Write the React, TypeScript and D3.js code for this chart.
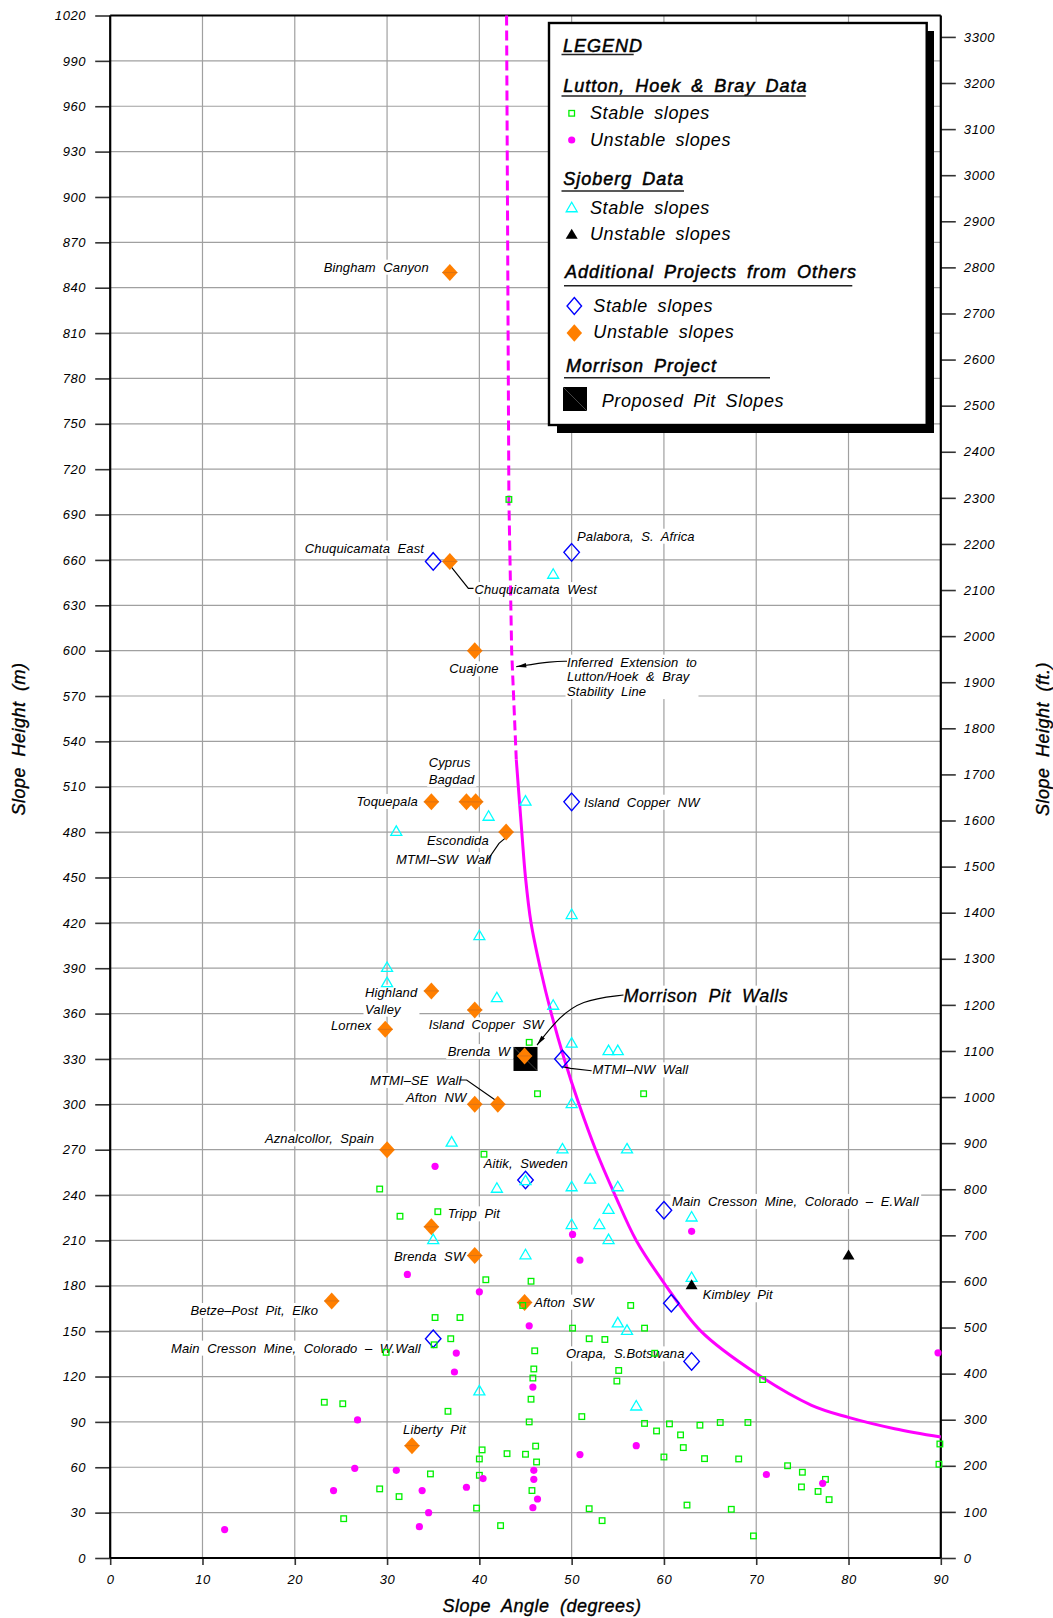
import React, { useEffect, useRef } from "react";
import * as d3 from "d3";

type Pt = [number, number];

const W = 1053;
const H = 1618;

// ---- axes / ticks ----
const angleTicks = [0, 10, 20, 30, 40, 50, 60, 70, 80, 90];
const heightTicksM = [0, 30, 60, 90, 120, 150, 180, 210, 240, 270, 300, 330, 360, 390, 420, 450, 480, 510, 540, 570, 600, 630, 660, 690, 720, 750, 780, 810, 840, 870, 900, 930, 960, 990, 1020];
const heightTicksFt = [0, 100, 200, 300, 400, 500, 600, 700, 800, 900, 1000, 1100, 1200, 1300, 1400, 1500, 1600, 1700, 1800, 1900, 2000, 2100, 2200, 2300, 2400, 2500, 2600, 2700, 2800, 2900, 3000, 3100, 3200, 3300];

// ---- data: [slope angle (deg), slope height (m)] ----
const lhbStable: Pt[] = [
  [43.2, 700], [45.4, 341], [46.3, 307], [57.8, 307], [40.5, 267], [29.2, 244], [31.4, 226], [35.5, 229],
  [40.7, 184], [45.6, 183], [35.2, 159], [37.9, 159], [36.9, 145], [35.1, 141], [29.9, 136], [46, 137],
  [45.9, 125], [45.8, 119], [45.6, 105], [23.2, 103], [25.2, 102], [36.6, 97], [45.4, 90], [46.1, 74],
  [40.3, 71.5], [43, 69], [45, 68.6], [40, 65.5], [46.2, 63.5], [34.7, 55.6], [40, 54.7], [29.2, 45.7],
  [45.7, 44.6], [31.3, 40.6], [39.7, 33], [25.3, 26], [42.3, 21.4], [44.7, 167], [56.4, 167], [50.1, 152],
  [57.9, 152], [51.9, 145], [53.6, 144.5], [59, 135.4], [55.1, 124], [54.9, 117], [70.7, 118], [51.1, 93.5],
  [57.9, 89], [59.2, 84], [60.6, 88.7], [61.8, 81.4], [63.9, 87.8], [66.1, 89.6], [69.1, 89.6], [62.1, 73],
  [60, 66.8], [64.4, 65.7], [68.1, 65.5], [73.4, 61], [75, 56.7], [74.9, 47], [76.7, 44], [77.5, 52],
  [77.9, 38.6], [51.9, 32.6], [62.5, 35], [67.3, 32.2], [53.3, 24.7], [69.7, 14.6], [89.9, 75.4], [89.8, 62],
];
const lhbUnstable: Pt[] = [
  [35.2, 259], [50.1, 214], [63, 216], [50.9, 197], [32.2, 187.5], [40, 176], [45.4, 153.5], [37.5, 135.5],
  [37.3, 123], [45.8, 113], [26.8, 91.3], [26.5, 59.3], [31, 58], [45.9, 58], [40.4, 52.5], [45.9, 52],
  [38.6, 46.8], [24.2, 44.6], [33.8, 44.6], [46.3, 39], [45.8, 33.3], [34.5, 30], [33.5, 20.7], [12.4, 18.8],
  [50.9, 68.4], [57, 74.3], [71.1, 55.2], [77.2, 49.4], [89.7, 135.7],
];
const sjobergStable: Pt[] = [
  [48, 651], [45, 501], [41, 491], [31, 481], [40, 412], [30, 391], [30, 381], [41.9, 371], [48, 366],
  [50, 426], [50, 341], [54, 336], [55, 336], [37, 275.5], [49, 271], [56, 271], [45, 250], [52, 251],
  [41.9, 245], [50, 246], [55, 246], [54, 231], [53, 221], [50, 221], [63, 226], [35, 211], [54, 211],
  [45, 201], [63, 186], [55, 156], [56, 151], [57, 101], [40, 111], [50, 301],
];
const sjobergUnstable: Pt[] = [[63, 181], [80, 200.7]];
const othersStable: Pt[] = [
  [35, 659], [50, 665], [50, 500], [49, 330], [45, 250], [60, 230], [35, 145], [60.8, 168.5], [63, 130],
];
const othersUnstable: Pt[] = [
  [36.8, 850], [36.8, 659], [39.5, 600], [34.8, 500], [38.6, 500], [39.6, 500], [42.9, 480], [34.8, 375],
  [39.5, 362.4], [29.8, 349.6], [44.9, 332], [42, 300], [39.5, 300], [30, 270], [34.8, 219], [39.5, 200],
  [24, 170], [44.9, 169], [32.7, 74.3],
];
const morrisonPit: Pt[] = [[45, 330]];

// Lutton / Hoek & Bray stability line
const stabilityInferred: Pt[] = [[42.95, 1020], [43.2, 700], [43.5, 600], [44.0, 528]];
const stabilityLine: Pt[] = [
  [44.0, 528], [44.6, 480], [45.0, 450], [45.6, 420], [46.6, 390], [47.8, 360], [49.2, 330], [50.8, 300],
  [52.6, 270], [54.7, 240], [57.0, 210], [60.0, 182], [64, 150], [70, 122], [76, 101], [80, 93], [85, 85.5], [90, 80],
];

// site labels: text lines, anchor (angle, height) of first baseline start
const siteLabels: { lines: string[]; at: Pt; big?: boolean }[] = [
  { lines: ["Bingham  Canyon"], at: [23.13, 850.6] },
  { lines: ["Chuquicamata  East"], at: [21.09, 664.8] },
  { lines: ["Chuquicamata  West"], at: [39.47, 637.4] },
  { lines: ["Cuajone"], at: [36.75, 585] },
  { lines: ["Palabora,  S.  Africa"], at: [50.58, 672.7] },
  { lines: ["Inferred  Extension  to", "Lutton/Hoek  &  Bray", "Stability  Line"], at: [49.5, 589.4] },
  { lines: ["Island  Copper  NW"], at: [51.34, 496.8] },
  { lines: ["Cyprus", "Bagdad"], at: [34.51, 523.2] },
  { lines: ["Toquepala"], at: [26.68, 497.3] },
  { lines: ["Escondida"], at: [34.33, 471.5] },
  { lines: ["MTMI–SW  Wall"], at: [30.97, 458.9] },
  { lines: ["Highland", "Valley"], at: [27.61, 371.2] },
  { lines: ["Lornex"], at: [23.92, 349.1] },
  { lines: ["Island  Copper  SW"], at: [34.51, 349.6] },
  { lines: ["Brenda  W"], at: [36.57, 331.9] },
  { lines: ["MTMI–SE  Wall"], at: [28.15, 312.8] },
  { lines: ["Afton  NW"], at: [32.05, 301.7] },
  { lines: ["Aznalcollor,  Spain"], at: [16.77, 274.2] },
  { lines: ["Aitik,  Sweden"], at: [40.48, 257.7] },
  { lines: ["Tripp  Pit"], at: [36.57, 224.6] },
  { lines: ["Brenda  SW"], at: [30.75, 196.6] },
  { lines: ["Betze–Post  Pit,  Elko"], at: [8.69, 160.7] },
  { lines: ["Main  Cresson  Mine,  Colorado  –  W.Wall"], at: [6.59, 135.8] },
  { lines: ["Liberty  Pit"], at: [31.73, 82] },
  { lines: ["Afton  SW"], at: [45.94, 166.2] },
  { lines: ["Kimbley  Pit"], at: [64.21, 171.1] },
  { lines: ["Orapa,  S.Botswana"], at: [49.39, 132] },
  { lines: ["Main  Cresson  Mine,  Colorado  –  E.Wall"], at: [60.87, 232.8] },
  { lines: ["MTMI–NW  Wall"], at: [52.25, 319.8] },
  { lines: ["Morrison  Pit  Walls"], at: [55.62, 367.9], big: true },
];

const leaders: { pts: Pt[]; arrow: boolean; smooth: boolean }[] = [
  { pts: [[36.93, 655.5], [38.81, 641.2], [39.37, 641.2]], arrow: false, smooth: false },
  { pts: [[49.5, 593], [48.0, 593], [44.0, 589.4]], arrow: true, smooth: true },
  { pts: [[40.67, 459.6], [42.13, 472.6], [42.9, 476.5]], arrow: false, smooth: false },
  { pts: [[37.87, 316.1], [38.62, 316.1], [41.72, 302.9]], arrow: false, smooth: false },
  { pts: [[49, 324.9], [49.88, 323.8], [52.17, 322.2]], arrow: false, smooth: false },
  { pts: [[55.62, 372.3], [50.99, 369], [48.35, 355.8], [46.25, 339.2]], arrow: true, smooth: true },
];

const FONT = "'Liberation Sans', Arial, Helvetica, sans-serif";

const diamondPath = (w: number, h: number) => `M0,${-h / 2}L${w / 2},0L0,${h / 2}L${-w / 2},0Z`;
const triPath = (w: number, h: number) => `M0,${-h / 2}L${w / 2},${h / 2}L${-w / 2},${h / 2}Z`;

export default function App() {
  const ref = useRef<SVGSVGElement>(null);

  useEffect(() => {
    const svg = d3.select(ref.current as SVGSVGElement);
    svg.selectAll("*").remove();

    const x = d3.scaleLinear().domain([0, 90]).range([110.2, 940.8]);
    const y = d3.scaleLinear().domain([0, 1020]).range([1558, 15.5]);
    const yFt = d3.scaleLinear().domain([0, 1020 / 0.3048]).range([1558, 15.5]);

    svg.append("rect").attr("width", W).attr("height", H).attr("fill", "#fff");

    const defs = svg.append("defs");
    defs.append("marker").attr("id", "arrowHead").attr("viewBox", "0 0 12 6")
      .attr("refX", 12).attr("refY", 3).attr("markerWidth", 12).attr("markerHeight", 5)
      .attr("markerUnits", "userSpaceOnUse").attr("orient", "auto")
      .append("path").attr("d", "M0,0.3L12,3L0,5.7Z").attr("fill", "#000");

    // grid
    const grid = svg.append("g").attr("stroke", "#a0a0a0").attr("stroke-width", 1.2);
    grid.selectAll("line.gv").data(angleTicks.filter((d) => d > 0 && d < 90)).join("line")
      .attr("class", "gv").attr("x1", (d) => x(d)).attr("x2", (d) => x(d)).attr("y1", y(0)).attr("y2", y(1020));
    grid.selectAll("line.gh").data(heightTicksM.filter((d) => d > 0 && d < 1020)).join("line")
      .attr("class", "gh").attr("x1", x(0)).attr("x2", x(90)).attr("y1", (d) => y(d)).attr("y2", (d) => y(d));

    const masks = svg.append("g").attr("fill", "#fff");

    // axes
    const styleAxis = (g: any) => {
      g.select(".domain").remove();
      g.selectAll("line").attr("stroke", "#333").attr("stroke-width", 1.6);
      g.selectAll("text").attr("font-family", FONT).attr("font-style", "italic")
        .attr("font-size", 13).attr("letter-spacing", 0.6).attr("fill", "#000");
    };
    svg.append("g").attr("transform", `translate(${x(0)},0)`)
      .call(d3.axisLeft(y).tickValues(heightTicksM).tickSize(15).tickPadding(9).tickFormat(d3.format("d")))
      .call(styleAxis);
    svg.append("g").attr("transform", `translate(${x(90)},0)`)
      .call(d3.axisRight(yFt).tickValues(heightTicksFt).tickSize(15).tickPadding(8).tickFormat(d3.format("d")))
      .call(styleAxis);
    svg.append("g").attr("transform", `translate(0,${y(0)})`)
      .call(d3.axisBottom(x).tickValues(angleTicks).tickSize(7).tickPadding(10).tickFormat(d3.format("d")))
      .call(styleAxis);

    // frame
    const frame = svg.append("g").attr("stroke", "#000").attr("stroke-width", 2.2);
    frame.append("line").attr("x1", x(0)).attr("x2", x(90)).attr("y1", y(1020)).attr("y2", y(1020));
    frame.append("line").attr("x1", x(0)).attr("x2", x(90)).attr("y1", y(0)).attr("y2", y(0));
    frame.append("line").attr("x1", x(0)).attr("x2", x(0)).attr("y1", y(0)).attr("y2", y(1020));
    frame.append("line").attr("x1", x(90)).attr("x2", x(90)).attr("y1", y(0)).attr("y2", y(1020));

    // axis titles
    const title = (t: string, tx: number, ty: number, rot: number) =>
      svg.append("text").attr("transform", `translate(${tx},${ty}) rotate(${rot})`)
        .attr("text-anchor", "middle").attr("font-family", FONT).attr("font-style", "italic")
        .attr("font-size", 18).attr("letter-spacing", 0.5).attr("word-spacing", 5)
        .attr("stroke", "#000").attr("stroke-width", 0.35).attr("fill", "#000").text(t);
    title("Slope Angle (degrees)", 542, 1612, 0);
    title("Slope Height (m)", 25, 739, -90);
    title("Slope Height (ft.)", 1049, 739, -90);

    // stability line
    const line = d3.line<Pt>().x((d) => x(d[0])).y((d) => y(d[1]));
    svg.append("path").attr("d", line(stabilityInferred)).attr("fill", "none")
      .attr("stroke", "#ff00ff").attr("stroke-width", 3).attr("stroke-dasharray", "10 5");
    svg.append("path").attr("d", line.curve(d3.curveCatmullRom)(stabilityLine)).attr("fill", "none")
      .attr("stroke", "#ff00ff").attr("stroke-width", 3);

    // leaders
    leaders.forEach((l) => {
      const lg = d3.line<Pt>().x((d) => x(d[0])).y((d) => y(d[1]))
        .curve(l.smooth ? d3.curveBasis : d3.curveLinear);
      const p = svg.append("path").attr("d", lg(l.pts)).attr("fill", "none")
        .attr("stroke", "#000").attr("stroke-width", 1.2);
      if (l.arrow) p.attr("marker-end", "url(#arrowHead)");
    });

    // labels (with white masks behind)
    const labels = svg.append("g").attr("font-family", FONT).attr("font-style", "italic").attr("fill", "#000");
    siteLabels.forEach((lab) => {
      const gap = lab.lines.length === 3 ? 14.7 : 17;
      const t = labels.append("text")
        .style("white-space", "pre")
        .attr("font-size", lab.big ? 18 : 13)
        .attr("letter-spacing", lab.big ? 0.5 : 0.12);
      if (lab.big) t.attr("stroke", "#000").attr("stroke-width", 0.3);
      lab.lines.forEach((ln, i) => {
        t.append("tspan").attr("x", x(lab.at[0])).attr("y", y(lab.at[1]) + i * gap).text(ln);
      });
      const bb = (t.node() as SVGTextElement).getBBox();
      masks.append("rect").attr("x", bb.x - 1.5).attr("y", bb.y).attr("width", bb.width + 3).attr("height", bb.height);
    });

    // markers
    const mk = svg.append("g");
    mk.selectAll("g.mp").data(morrisonPit).join("g").attr("class", "mp")
      .attr("transform", (d) => `translate(${x(d[0])},${y(d[1])})`)
      .each(function () {
        const g = d3.select(this);
        g.append("rect").attr("x", -12).attr("y", -12).attr("width", 24).attr("height", 24).attr("fill", "#000");
        g.append("line").attr("x1", -12).attr("y1", -12).attr("x2", 12).attr("y2", 12).attr("stroke", "#555").attr("stroke-width", 0.8);
      });
    mk.selectAll("g.ou").data(othersUnstable).join("g").attr("class", "ou")
      .attr("transform", (d) => `translate(${x(d[0])},${y(d[1])})`)
      .each(function () {
        const g = d3.select(this);
        g.append("path").attr("d", diamondPath(15.5, 17)).attr("fill", "#ff7f00");
        g.append("line").attr("x1", -7.7).attr("x2", 7.7).attr("stroke", "#c86a1c").attr("stroke-width", 0.6);
      });
    mk.selectAll("path.os").data(othersStable).join("path").attr("class", "os")
      .attr("transform", (d) => `translate(${x(d[0])},${y(d[1])})`)
      .attr("d", diamondPath(15.5, 17.5)).attr("fill", "none").attr("stroke", "#0000ff").attr("stroke-width", 1.4);
    mk.selectAll("path.ss").data(sjobergStable).join("path").attr("class", "ss")
      .attr("transform", (d) => `translate(${x(d[0])},${y(d[1])})`)
      .attr("d", triPath(11, 9.5)).attr("fill", "none").attr("stroke", "#00ffff").attr("stroke-width", 1.3);
    mk.selectAll("path.su").data(sjobergUnstable).join("path").attr("class", "su")
      .attr("transform", (d) => `translate(${x(d[0])},${y(d[1])})`)
      .attr("d", triPath(12, 10)).attr("fill", "#000");
    mk.selectAll("rect.ls").data(lhbStable).join("rect").attr("class", "ls")
      .attr("x", (d) => x(d[0]) - 2.8).attr("y", (d) => y(d[1]) - 2.8).attr("width", 5.6).attr("height", 5.6)
      .attr("fill", "none").attr("stroke", "#00f000").attr("stroke-width", 1.3);
    mk.selectAll("circle.lu").data(lhbUnstable).join("circle").attr("class", "lu")
      .attr("cx", (d) => x(d[0])).attr("cy", (d) => y(d[1])).attr("r", 3.6).attr("fill", "#ff00ff");

    // legend
    const lg = svg.append("g");
    lg.append("rect").attr("x", 557).attr("y", 31).attr("width", 377).attr("height", 402).attr("fill", "#000");
    lg.append("rect").attr("x", 549).attr("y", 23).attr("width", 377.7).attr("height", 402)
      .attr("fill", "#fff").attr("stroke", "#000").attr("stroke-width", 2.4);
    const head = (t: string, tx: number, ty: number, ux1: number, ux2: number, uy: number) => {
      lg.append("text").attr("x", tx).attr("y", ty).attr("font-family", FONT).attr("font-style", "italic")
        .attr("font-size", 18).attr("letter-spacing", 1).attr("word-spacing", 4)
        .attr("stroke", "#000").attr("stroke-width", 0.5).attr("fill", "#000").text(t);
      lg.append("line").attr("x1", ux1).attr("x2", ux2).attr("y1", uy).attr("y2", uy)
        .attr("stroke", "#222").attr("stroke-width", 1.6);
    };
    const item = (t: string, tx: number, ty: number) =>
      lg.append("text").attr("x", tx).attr("y", ty).attr("font-family", FONT).attr("font-style", "italic")
        .attr("font-size", 18).attr("letter-spacing", 0.6).attr("word-spacing", 4).attr("fill", "#000").text(t);
    head("LEGEND", 563, 52, 561.5, 633.7, 54.5);
    head("Lutton, Hoek & Bray Data", 563.3, 91.7, 561.5, 805.7, 96);
    lg.append("rect").attr("x", 571.7 - 2.8).attr("y", 113.3 - 2.8).attr("width", 5.6).attr("height", 5.6)
      .attr("fill", "none").attr("stroke", "#00f000").attr("stroke-width", 1.3);
    item("Stable slopes", 590, 119);
    lg.append("circle").attr("cx", 571.7).attr("cy", 140).attr("r", 3.6).attr("fill", "#ff00ff");
    item("Unstable slopes", 590, 145.7);
    head("Sjoberg Data", 563.3, 185, 561.5, 684, 191);
    lg.append("path").attr("transform", "translate(571.7,207)").attr("d", triPath(11, 9.5))
      .attr("fill", "none").attr("stroke", "#00ffff").attr("stroke-width", 1.3);
    item("Stable slopes", 590, 213.7);
    lg.append("path").attr("transform", "translate(571.7,233.7)").attr("d", triPath(12, 10)).attr("fill", "#000");
    item("Unstable slopes", 590, 240);
    head("Additional Projects from Others", 565, 278.3, 564, 852.3, 285.7);
    lg.append("path").attr("transform", "translate(574.3,306)").attr("d", diamondPath(14.5, 17))
      .attr("fill", "none").attr("stroke", "#0000ff").attr("stroke-width", 1.4);
    item("Stable slopes", 593.3, 311.7);
    lg.append("path").attr("transform", "translate(574.3,333)").attr("d", diamondPath(15.5, 17.5)).attr("fill", "#ff7f00");
    item("Unstable slopes", 593.3, 337.7);
    head("Morrison Project", 566, 371.7, 564, 770, 377.7);
    lg.append("rect").attr("x", 563).attr("y", 387).attr("width", 24).attr("height", 24).attr("fill", "#000");
    lg.append("line").attr("x1", 563).attr("y1", 387).attr("x2", 587).attr("y2", 411).attr("stroke", "#555").attr("stroke-width", 0.8);
    item("Proposed Pit Slopes", 601.7, 407.3);
  }, []);

  return (
    <svg ref={ref} width={W} height={H} viewBox={`0 0 ${W} ${H}`}
      style={{ position: "absolute", left: 0, top: 0, display: "block", background: "#fff" }} />
  );
}
